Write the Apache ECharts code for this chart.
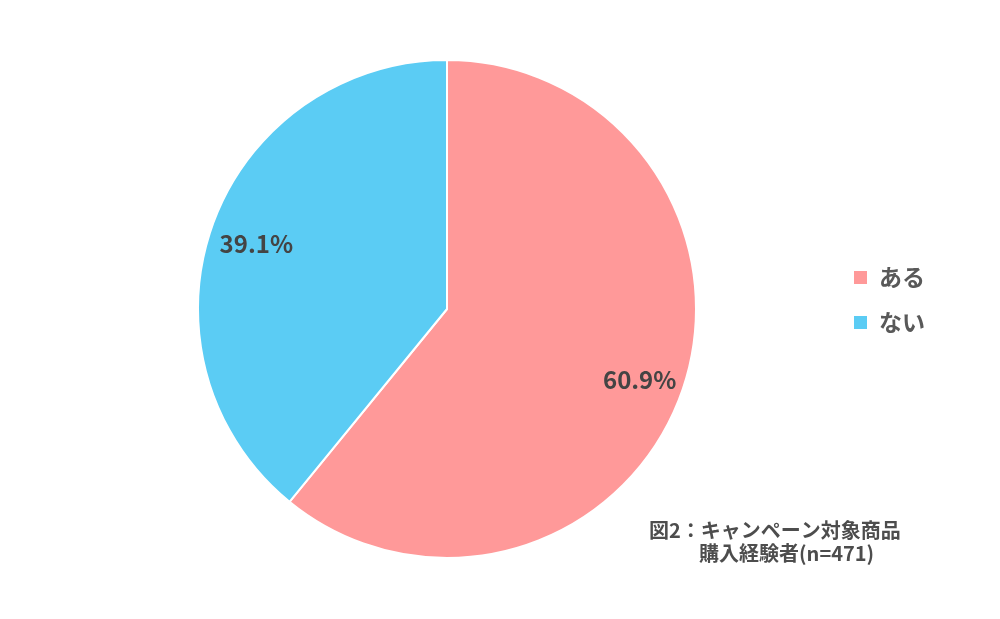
<!DOCTYPE html>
<html><head><meta charset="utf-8">
<script src="https://cdn.jsdelivr.net/npm/echarts@6/dist/echarts.min.js"></script>
<style>html,body{margin:0;padding:0;background:#fff}#c{width:1000px;height:619px}</style>
</head><body><div id="c"></div>
<script>
const categories = ['ある', 'ない'];
const values = [60.9, 39.1];
const colors = ['#FF9999', '#5BCCF4'];
const captionLines = ['図2：キャンペーン対象商品', '購入経験者(n=471)'];

const FONT = '"Noto Sans CJK JP", "Noto Sans", sans-serif';
const data = categories.map((n, i) => ({ name: n, value: values[i], itemStyle: { color: colors[i] } }));

const chart = echarts.init(document.getElementById('c'));
chart.setOption({
  animation: false,
  legend: {
    orient: 'vertical',
    left: 852,
    top: 265,
    padding: 0,
    itemWidth: 15,
    itemHeight: 15,
    itemGap: 20,
    icon: 'rect',
    data: categories,
    textStyle: { fontFamily: FONT, fontSize: 23, fontWeight: 'bold', color: '#595959', padding: [0, 0, 0, 6], lineHeight: 25 }
  },
  series: [
    {
      type: 'pie',
      center: [447, 309],
      radius: [0, 249],
      startAngle: 90,
      clockwise: true,
      label: { show: false },
      labelLine: { show: false },
      itemStyle: { borderColor: '#fff', borderWidth: 2 },
      emphasis: { disabled: true },
      data: data
    },
    {
      type: 'pie',
      center: [448, 312],
      radius: [152, 249],
      startAngle: 90,
      clockwise: true,
      silent: true,
      itemStyle: { color: 'rgba(0,0,0,0)' },
      label: {
        show: true, position: 'inside',
        formatter: p => p.value.toFixed(1) + '%',
        fontFamily: FONT, fontSize: 24, fontWeight: 'bold', color: '#444444'
      },
      labelLine: { show: false },
      emphasis: { disabled: true },
      data: categories.map((n, i) => ({ name: n, value: values[i] }))
    }
  ],
  graphic: [
    { type: 'text', left: 649, top: 520, style: { text: captionLines[0], font: 'bold 20px ' + FONT, fill: '#4d4d4d' } },
    { type: 'text', left: 699, top: 543, style: { text: captionLines[1], font: 'bold 20px ' + FONT, fill: '#4d4d4d' } }
  ]
});
</script></body></html>
